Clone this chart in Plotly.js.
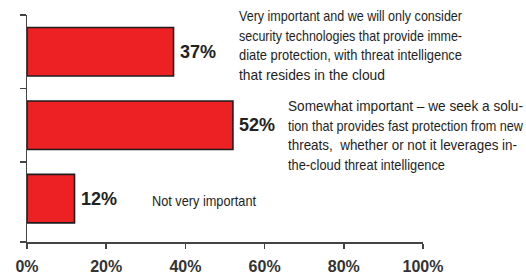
<!DOCTYPE html>
<html>
<head>
<meta charset="utf-8">
<script src="https://cdn.plot.ly/plotly-3.0.1.min.js"></script>
<style>html,body{margin:0;padding:0;background:#fff;}#chart{width:526px;height:276px;}</style>
</head>
<body>
<div id="chart"></div>
<script>
var categories = [
  "Very important and we will only consider<br>security technologies that provide imme-<br>diate protection, with threat intelligence<br>that resides in the cloud",
  "Somewhat important \u2013 we seek a solu-<br>tion that provides fast protection from new<br>threats,  whether or not it leverages in-<br>the-cloud threat intelligence",
  "Not very important"
];
var values = [37, 52, 12];
var valueLabels = ["37%", "52%", "12%"];
var xTickValues = [0, 20, 40, 60, 80, 100];
var xTickLabels = ["0%", "20%", "40%", "60%", "80%", "100%"];

var positions = categories.map(function (c, i) { return i; });
var textFont = "Liberation Sans, Arial, sans-serif";

// description placement and condensed/justified line widths (style only)
var descX = [53.0, 65.5, 31.0];
var descY = [-0.5, 0.5, 2.0];
var descYAnchor = ["top", "top", "middle"];
var descYShift = [10, -7, -2];
var descLineWidths = [[223, 223, 223, 146], [235, 235, 229, 157], [104]];

var annotations = [];
values.forEach(function (v, i) {
  annotations.push({
    x: v, y: positions[i], xref: "x", yref: "y",
    text: valueLabels[i], showarrow: false,
    xanchor: "left", yanchor: "middle", xshift: 4, yshift: 0,
    font: {family: textFont, size: 18, color: "#222", weight: "bold"}
  });
  annotations.push({
    x: descX[i], y: descY[i], xref: "x", yref: "y",
    text: categories[i], showarrow: false, align: "left",
    xanchor: "left", yanchor: descYAnchor[i], yshift: descYShift[i],
    font: {family: textFont, size: 15, color: "#1e1e1e"}
  });
});

var trace = {
  type: "bar", orientation: "h",
  x: values, y: positions, width: 0.66,
  marker: {color: "#ED2024", line: {color: "#1e1e1e", width: 1.6}},
  hoverinfo: "none"
};

var layout = {
  width: 526, height: 276,
  margin: {l: 27, r: 103, t: 15, b: 34},
  paper_bgcolor: "#fff", plot_bgcolor: "#fff",
  showlegend: false,
  xaxis: {
    range: [0, 100], tickvals: xTickValues, ticktext: xTickLabels,
    showgrid: false, zeroline: false, showline: true,
    linecolor: "#444", linewidth: 1.5, ticks: "outside", ticklen: 5, tickwidth: 1.5, tickcolor: "#444",
    ticklabelstandoff: 4,
    tickfont: {family: textFont, size: 16, color: "#333", weight: "bold"},
    fixedrange: true
  },
  yaxis: {
    range: [2.59, -0.5], tickvals: [-0.5, 0.5, 1.5, 2.59], showticklabels: false,
    showgrid: false, zeroline: false, showline: true,
    linecolor: "#444", linewidth: 1.5, ticks: "outside", ticklen: 6, tickwidth: 1.5, tickcolor: "#444",
    fixedrange: true
  },
  annotations: annotations
};

Plotly.newPlot("chart", [trace], layout, {displayModeBar: false, staticPlot: true}).then(function () {
  var texts = document.querySelectorAll("#chart .annotation-text");
  texts.forEach(function (t) {
    var content = t.textContent;
    categories.forEach(function (cat, ci) {
      var first = cat.split("<br>")[0].replace(/\s+/g, " ");
      if (content.replace(/\s+/g, " ").indexOf(first) !== 0) return;
      var widths = descLineWidths[ci];
      var lines = t.querySelectorAll("tspan.line");
      if (lines.length) {
        lines.forEach(function (ln, li) {
          if (widths[li]) {
            ln.setAttribute("textLength", widths[li]);
            ln.setAttribute("lengthAdjust", "spacingAndGlyphs");
          }
        });
      } else {
        t.setAttribute("textLength", widths[0]);
        t.setAttribute("lengthAdjust", "spacingAndGlyphs");
      }
    });
  });
});
</script>
</body>
</html>
